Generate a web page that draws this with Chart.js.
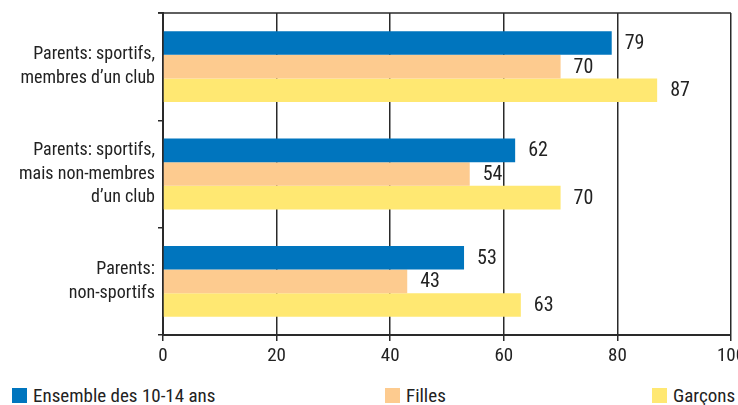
<!DOCTYPE html>
<html>
<head>
<meta charset="utf-8">
<script src="https://cdn.jsdelivr.net/npm/chart.js@4/dist/chart.umd.min.js"></script>
<style>
  html, body { margin: 0; padding: 0; background: #fff; }
  #wrap { position: relative; width: 738px; height: 405px; overflow: hidden; }
  #chart { position: absolute; left: 0; top: 0; }
  .leg { position: absolute; top: 385px; height: 20px; display: flex; align-items: center;
         font-family: "Roboto Condensed", "DejaVu Sans Condensed", sans-serif; font-size: 19px; color: #222; white-space: nowrap; }
  .leg i { display: inline-block; width: 15px; height: 15px; margin-right: 6px; }
</style>
</head>
<body>
<div id="wrap">
  <canvas id="chart" width="738" height="370"></canvas>
  <div class="leg" style="left:12px"><i style="background:#0075be"></i>Ensemble des 10-14 ans</div>
  <div class="leg" style="left:385px"><i style="background:#fdcb8f"></i>Filles</div>
  <div class="leg" style="left:652px"><i style="background:#ffe872"></i>Garçons</div>
</div>
<script>
// categories (multi-line labels) and series values
const categories = [
  ['Parents: sportifs,', 'membres d\u2019un club'],
  ['Parents: sportifs,', 'mais non-membres', 'd\u2019un club'],
  ['Parents:', 'non-sportifs']
];
const seriesNames = ['Ensemble des 10-14 ans', 'Filles', 'Gar\u00e7ons'];
const ensemble = [79, 62, 53];
const filles = [70, 54, 43];
const garcons = [87, 70, 63];
const xTicks = [0, 20, 40, 60, 80, 100];

const COLORS = ['#0075be', '#fdcb8f', '#ffe872'];
const FONT = '"Roboto Condensed", "DejaVu Sans Condensed", sans-serif';
const INK = '#222';
const LINE = '#2a2a2a';

// values printed to the right of each bar
const valueLabels = {
  id: 'valueLabels',
  afterDatasetsDraw(chart) {
    const ctx = chart.ctx;
    ctx.save();
    ctx.font = '20px ' + FONT;
    ctx.fillStyle = INK;
    ctx.textAlign = 'left';
    ctx.textBaseline = 'middle';
    chart.data.datasets.forEach((ds, i) => {
      chart.getDatasetMeta(i).data.forEach((bar, j) => {
        ctx.fillText(ds.data[j], bar.x + 13, bar.y + 1);
      });
    });
    ctx.restore();
  }
};

// frame line across the top of the plot
const topFrame = {
  id: 'topFrame',
  afterDraw(chart) {
    const a = chart.chartArea, ctx = chart.ctx;
    ctx.save();
    ctx.strokeStyle = LINE;
    ctx.lineWidth = 1.5;
    ctx.beginPath();
    ctx.moveTo(a.left - 5, a.top);
    ctx.lineTo(a.right, a.top);
    ctx.stroke();
    ctx.restore();
  }
};

new Chart(document.getElementById('chart'), {
  type: 'bar',
  data: {
    labels: categories,
    datasets: [
      { label: seriesNames[0], data: ensemble, backgroundColor: COLORS[0] },
      { label: seriesNames[1], data: filles, backgroundColor: COLORS[1] },
      { label: seriesNames[2], data: garcons, backgroundColor: COLORS[2] }
    ]
  },
  options: {
    indexAxis: 'y',
    responsive: false,
    animation: false,
    barPercentage: 1,
    categoryPercentage: 0.66,
    layout: { padding: { top: 13, right: 7, left: 0, bottom: 0 } },
    plugins: { legend: { display: false }, tooltip: { enabled: false } },
    scales: {
      x: {
        min: 0, max: 100,
        afterBuildTicks(scale) { scale.ticks = xTicks.map(v => ({ value: v })); },
        afterFit(scale) { scale.height = 35; scale.paddingRight = 0; scale.paddingLeft = 0; },
        grid: { color: LINE, lineWidth: 1.5, tickLength: 6, tickColor: LINE },
        border: { color: LINE, width: 2 },
        ticks: { color: INK, font: { family: FONT, size: 19 }, padding: 4 }
      },
      y: {
        afterFit(scale) { scale.width = 163; scale.paddingTop = 0; scale.paddingBottom = 0; },
        grid: {
          offset: true,
          color: 'rgba(0,0,0,0)',
          tickLength: 5, tickColor: LINE, lineWidth: 1.5
        },
        border: { color: LINE, width: 2 },
        ticks: { color: INK, font: { family: FONT, size: 18, lineHeight: 1.3 }, padding: 3 }
      }
    }
  },
  plugins: [valueLabels, topFrame]
});
</script>
</body>
</html>
